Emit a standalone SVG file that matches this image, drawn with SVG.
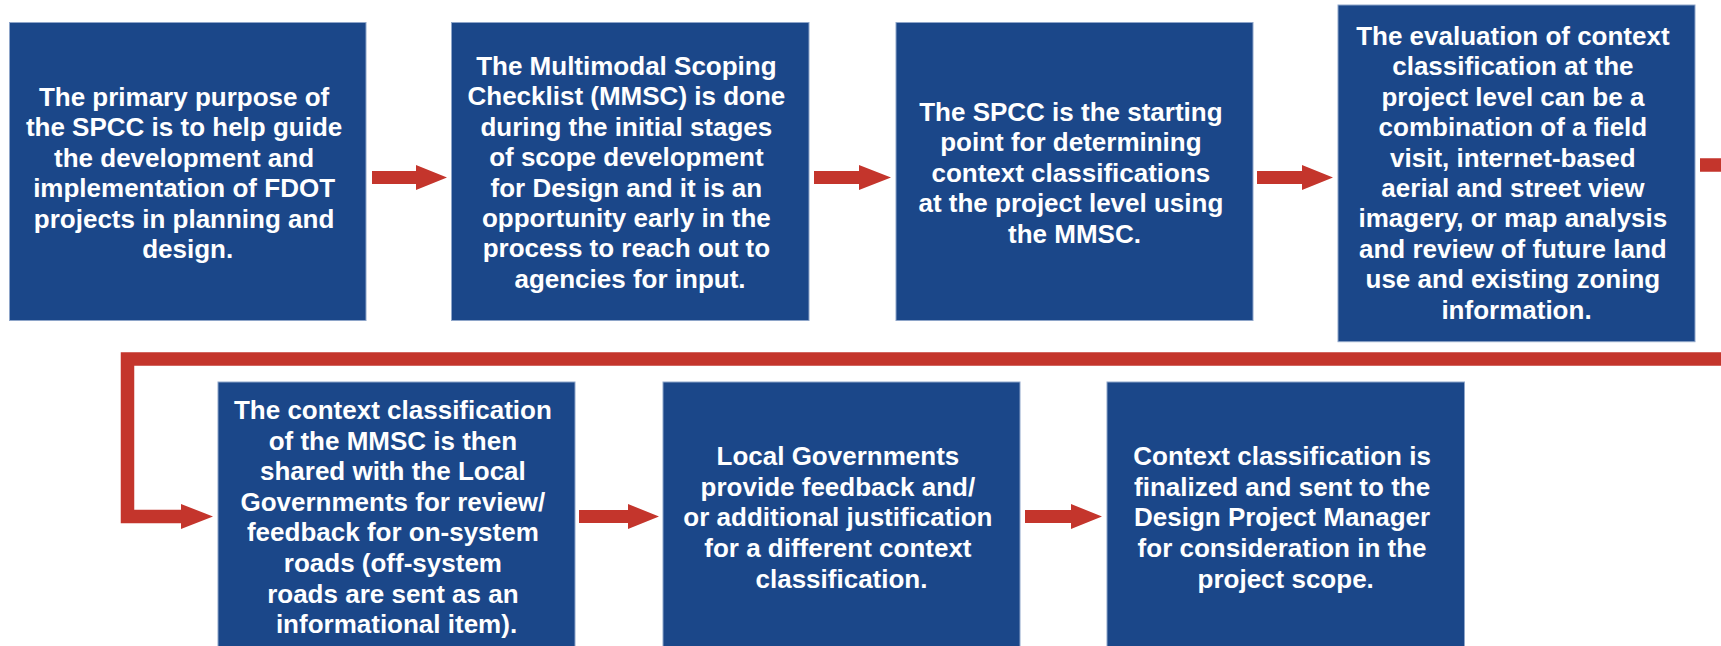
<svg xmlns="http://www.w3.org/2000/svg" width="1721" height="646" viewBox="0 0 1721 646">
  <style>
    .box { fill: #1b4789; stroke: #8ea5c9; stroke-width: 1; }
    .lbl { font-family: "Liberation Sans", Arial, sans-serif; font-weight: bold; font-size: 26px; fill: #ffffff; text-anchor: middle; }
    .arrow { fill: #c4352c; }
    .flow { fill: none; stroke: #c4352c; stroke-width: 13.5; stroke-linejoin: miter; }
  </style>
  <rect width="1721" height="646" fill="#ffffff"/>

  <!-- connectors -->
  <g id="connectors">
    <polygon class="arrow" points="372,171 416,171 416,165 447,177.5 416,190 416,184 372,184"/>
    <polygon class="arrow" points="814,171 859,171 859,165 891,177.5 859,190 859,184 814,184"/>
    <polygon class="arrow" points="1257,171 1302,171 1302,165 1333,177.5 1302,190 1302,184 1257,184"/>
    <!-- wrap-around from the end of the top row back to the start of the bottom row -->
    <path class="flow" d="M1700,165 H1740 V359 H127.5 V516.5 H183"/>
    <polygon class="arrow" points="181,504 213,516.5 181,529"/>
    <polygon class="arrow" points="579,510 628,510 628,504 659,516.5 628,529 628,523 579,523"/>
    <polygon class="arrow" points="1025,510 1071,510 1071,504 1102,516.5 1071,529 1071,523 1025,523"/>
  </g>

  <g id="step1">
    <rect class="box" x="9.5" y="22.5" width="356.5" height="298"/>
    <text class="lbl" x="187.7" y="106">
      <tspan x="187.7">The primary purpose of</tspan>
      <tspan x="187.7" dy="30.4">the SPCC is to help guide</tspan>
      <tspan x="187.7" dy="30.4">the development and</tspan>
      <tspan x="187.7" dy="30.4">implementation of FDOT</tspan>
      <tspan x="187.7" dy="30.4">projects in planning and</tspan>
      <tspan x="187.7" dy="30.4">design.</tspan>
    </text>
  </g>

  <g id="step2">
    <rect class="box" x="451.5" y="22.5" width="357.5" height="298"/>
    <text class="lbl" x="630" y="75">
      <tspan x="630">The Multimodal Scoping</tspan>
      <tspan x="630" dy="30.4">Checklist (MMSC) is done</tspan>
      <tspan x="630" dy="30.4">during the initial stages</tspan>
      <tspan x="630" dy="30.4">of scope development</tspan>
      <tspan x="630" dy="30.4">for Design and it is an</tspan>
      <tspan x="630" dy="30.4">opportunity early in the</tspan>
      <tspan x="630" dy="30.4">process to reach out to</tspan>
      <tspan x="630" dy="30.4">agencies for input.</tspan>
    </text>
  </g>

  <g id="step3">
    <rect class="box" x="896" y="22.5" width="357" height="298"/>
    <text class="lbl" x="1074.5" y="121">
      <tspan x="1074.5">The SPCC is the starting</tspan>
      <tspan x="1074.5" dy="30.4">point for determining</tspan>
      <tspan x="1074.5" dy="30.4">context classifications</tspan>
      <tspan x="1074.5" dy="30.4">at the project level using</tspan>
      <tspan x="1074.5" dy="30.4">the MMSC.</tspan>
    </text>
  </g>

  <g id="step4">
    <rect class="box" x="1338" y="5" width="357" height="336.7"/>
    <text class="lbl" x="1516.5" y="45">
      <tspan x="1516.5">The evaluation of context</tspan>
      <tspan x="1516.5" dy="30.4">classification at the</tspan>
      <tspan x="1516.5" dy="30.4">project level can be a</tspan>
      <tspan x="1516.5" dy="30.4">combination of a field</tspan>
      <tspan x="1516.5" dy="30.4">visit, internet-based</tspan>
      <tspan x="1516.5" dy="30.4">aerial and street view</tspan>
      <tspan x="1516.5" dy="30.4">imagery, or map analysis</tspan>
      <tspan x="1516.5" dy="30.4">and review of future land</tspan>
      <tspan x="1516.5" dy="30.4">use and existing zoning</tspan>
      <tspan x="1516.5" dy="30.4">information.</tspan>
    </text>
  </g>

  <g id="step5">
    <rect class="box" x="218" y="382" width="357" height="280"/>
    <text class="lbl" x="396.5" y="419">
      <tspan x="396.5">The context classification</tspan>
      <tspan x="396.5" dy="30.6">of the MMSC is then</tspan>
      <tspan x="396.5" dy="30.6">shared with the Local</tspan>
      <tspan x="396.5" dy="30.6">Governments for review/</tspan>
      <tspan x="396.5" dy="30.6">feedback for on-system</tspan>
      <tspan x="396.5" dy="30.6">roads (off-system</tspan>
      <tspan x="396.5" dy="30.6">roads are sent as an</tspan>
      <tspan x="396.5" dy="30.6">informational item).</tspan>
    </text>
  </g>

  <g id="step6">
    <rect class="box" x="663" y="382" width="357" height="280"/>
    <text class="lbl" x="841.5" y="465">
      <tspan x="841.5">Local Governments</tspan>
      <tspan x="841.5" dy="30.7">provide feedback and/</tspan>
      <tspan x="841.5" dy="30.7">or additional justification</tspan>
      <tspan x="841.5" dy="30.7">for a different context</tspan>
      <tspan x="841.5" dy="30.7">classification.</tspan>
    </text>
  </g>

  <g id="step7">
    <rect class="box" x="1107" y="382" width="357.5" height="280"/>
    <text class="lbl" x="1285.7" y="465">
      <tspan x="1285.7">Context classification is</tspan>
      <tspan x="1285.7" dy="30.7">finalized and sent to the</tspan>
      <tspan x="1285.7" dy="30.7">Design Project Manager</tspan>
      <tspan x="1285.7" dy="30.7">for consideration in the</tspan>
      <tspan x="1285.7" dy="30.7">project scope.</tspan>
    </text>
  </g>
</svg>
